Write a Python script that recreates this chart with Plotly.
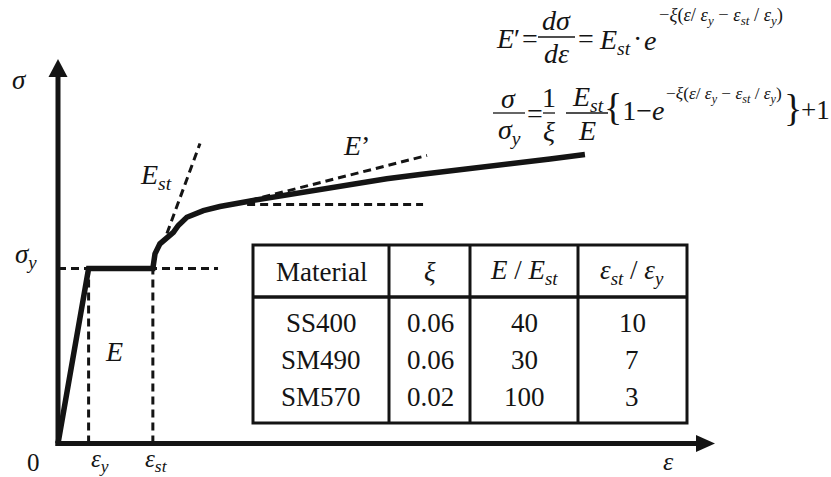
import plotly.graph_objects as go

W, H = 831, 477

# Stress–strain curve, normalised: strain ε/εy, stress σ/σy
eps_curve = [0.0, 1.0, 3.1, 3.17, 3.33, 3.55, 3.72, 3.77, 3.93, 4.21, 4.75, 5.29,
             6.38, 7.47, 8.56, 9.65, 10.74, 11.83, 12.81, 14.44, 16.08, 17.22]
sig_curve = [0.0, 1.0, 1.0, 1.084, 1.141, 1.179, 1.198, 1.207, 1.246, 1.293, 1.331, 1.354,
             1.389, 1.421, 1.455, 1.484, 1.513, 1.537, 1.556, 1.589, 1.626, 1.651]

eps_y = 1.0
eps_st = 3.1
sig_y = 1.0

# tangent guide lines (ε/εy, σ/σy)
est_tangent = ([3.56, 4.64], [1.20, 1.714])
eprime_tangent = ([6.27, 12.06], [1.389, 1.646])
eprime_level = ([6.18, 11.93], [1.366, 1.366])
sigy_guide_end = 5.23

# material table
table_header = ["Material", "<i>ξ</i>", "<i>E</i> / <i>E</i><sub><i>st</i></sub>",
                "<i>ε</i><sub><i>st</i></sub> / <i>ε</i><sub><i>y</i></sub>"]
materials = ["SS400", "SM490", "SM570"]
xi_values = ["0.06", "0.06", "0.02"]
e_ratio = ["40", "30", "100"]
eps_ratio = ["10", "7", "3"]

# pixel <-> data mapping
X0_PX, Y0_PX = 58.0, 443.5
XS, YS = 30.6, 175.0


def dx(px):
    return (px - X0_PX) / XS


def dy(py):
    return (Y0_PX - py) / YS


def pxr(x):
    return x / W


def pyr(y):
    return 1 - y / H


INK = "#141414"
SERIF = "Liberation Serif, Times New Roman, serif"

fig = go.Figure()

fig.add_trace(go.Scatter(x=eps_curve, y=sig_curve, mode="lines",
                         line=dict(color=INK, width=5.5), hoverinfo="skip",
                         showlegend=False))

shapes = []
dash = dict(color=INK, width=3, dash="8px,5px")


def dline(x0, y0, x1, y1):
    shapes.append(dict(type="line", xref="x", yref="y", x0=x0, y0=y0, x1=x1, y1=y1,
                       line=dash, layer="below"))


dline(0, sig_y, sigy_guide_end, sig_y)
dline(eps_y, 0, eps_y, sig_y)
dline(eps_st, 0, eps_st, sig_y)
dline(est_tangent[0][0], est_tangent[1][0], est_tangent[0][1], est_tangent[1][1])
dline(eprime_tangent[0][0], eprime_tangent[1][0], eprime_tangent[0][1], eprime_tangent[1][1])
dline(eprime_level[0][0], eprime_level[1][0], eprime_level[0][1], eprime_level[1][1])

# axes with arrow heads
axis = dict(color=INK, width=5)
shapes.append(dict(type="line", xref="x", yref="y", x0=0, y0=dy(446), x1=0, y1=dy(70),
                   line=axis))
shapes.append(dict(type="line", xref="x", yref="y", x0=dx(55.5), y0=0, x1=dx(702), y1=0,
                   line=axis))
shapes.append(dict(type="path", xref="x", yref="y",
                   path=f"M {dx(58)},{dy(59)} L {dx(48.5)},{dy(77)} L {dx(67.5)},{dy(77)} Z",
                   fillcolor=INK, line=dict(width=0)))
shapes.append(dict(type="path", xref="x", yref="y",
                   path=f"M {dx(715)},{dy(443.5)} L {dx(696)},{dy(435)} L {dx(696)},{dy(452)} Z",
                   fillcolor=INK, line=dict(width=0)))

# table grid (pixel layout)
TL, TR, TT, TB = 253, 687, 245, 423
HDR = 297
COLS = [389, 470, 578]
tline = dict(color=INK, width=3)
shapes.append(dict(type="rect", xref="paper", yref="paper", x0=pxr(TL), x1=pxr(TR),
                   y0=pyr(TT), y1=pyr(TB), line=tline, fillcolor="white"))
shapes.append(dict(type="line", xref="paper", yref="paper", x0=pxr(TL), x1=pxr(TR),
                   y0=pyr(HDR), y1=pyr(HDR), line=dict(color=INK, width=3.5)))
for c in COLS:
    shapes.append(dict(type="line", xref="paper", yref="paper", x0=pxr(c), x1=pxr(c),
                       y0=pyr(TT), y1=pyr(TB), line=tline))

annotations = []


def txt(s, x, y, size, xanchor="center", yanchor="middle", pad=1):
    annotations.append(dict(text=s, x=pxr(x), y=pyr(y), xref="paper", yref="paper",
                            xanchor=xanchor, yanchor=yanchor, showarrow=False,
                            borderpad=pad,
                            font=dict(family=SERIF, size=size, color=INK)))


col_centres = [321, 430, 524, 632]
for cx, h in zip(col_centres, table_header):
    txt(h, cx, 272, 27)
row_y = [323, 360, 397]
for i, ry in enumerate(row_y):
    for cx, col in zip(col_centres, [materials, xi_values, e_ratio, eps_ratio]):
        txt(col[i], cx, ry, 27)

# curve labels
txt("<i>σ</i>", 19, 80, 27)
txt("<i>σ</i><sub><i>y</i></sub>", 26, 256, 27)
txt("<i>E</i>", 114, 351, 28)
txt("<i>E</i><sub><i>st</i></sub>", 156, 177, 28)
txt("<i>E</i>’", 356, 145, 28)
txt("0", 33, 477, 25, yanchor="bottom", pad=0)
txt("<i>ε</i><sub><i>y</i></sub>", 100, 477, 25, yanchor="bottom", pad=0)
txt("<i>ε</i><sub><i>st</i></sub>", 156, 477, 25, yanchor="bottom", pad=0)
txt("<i>ε</i>", 668, 477, 26, yanchor="bottom", pad=0)

# formula 1: E' = dσ/dε = E_st · e^{-ξ(...)}
bar = dict(color=INK, width=1.3)


def fbar(x0, x1, y):
    shapes.append(dict(type="line", xref="paper", yref="paper", x0=pxr(x0), x1=pxr(x1),
                       y0=pyr(y), y1=pyr(y), line=bar))


FS = 28
EXP = ("−<i>ξ</i>(<i>ε</i>/ <i>ε</i><sub><i>y</i></sub> − "
       "<i>ε</i><sub><i>st</i></sub> / <i>ε</i><sub><i>y</i></sub>)")
txt("<i>E</i>′", 508, 38, FS)
txt("=", 530, 39, FS)
txt("<i>dσ</i>", 556, 21, FS)
fbar(538, 575, 37)
txt("<i>dε</i>", 556, 54, FS)
txt("=", 586, 39, FS)
txt("<i>E</i><sub><i>st</i></sub>", 597, 42, FS, xanchor="left")
txt("·", 637, 38, FS)
txt("<i>e</i>", 650, 40, FS)
txt(EXP, 657, 16, 18.5, xanchor="left")

# formula 2: σ/σy = (1/ξ)(Est/E){1 - e^{...}} + 1
txt("<i>σ</i>", 508, 98, FS)
fbar(493, 525, 113)
txt("<i>σ</i><sub><i>y</i></sub>", 510, 131, FS)
txt("=", 535, 114, FS)
txt("1", 549, 97, FS)
fbar(543, 555, 113)
txt("<i>ξ</i>", 549, 131, FS)
txt("<i>E</i><sub><i>st</i></sub>", 588, 99, FS)
fbar(566, 608, 113)
txt("<i>E</i>", 587, 130, FS)
txt('<span style="font-size:38px">{</span>1−<i>e</i>', 602, 107, FS, xanchor="left")
txt(EXP, 664, 95, 17.3, xanchor="left")
txt("}", 793, 108, 38)
txt("+1", 831, 110, 27, xanchor="right", pad=0)

fig.update_layout(
    width=W, height=H,
    margin=dict(l=0, r=0, t=0, b=0),
    paper_bgcolor="white", plot_bgcolor="white",
    font=dict(family=SERIF, color=INK),
    xaxis=dict(range=[dx(0), dx(W)], visible=False, fixedrange=True),
    yaxis=dict(range=[dy(H), dy(0)], visible=False, fixedrange=True),
    shapes=shapes, annotations=annotations, showlegend=False,
)

fig.write_html("out.html")
